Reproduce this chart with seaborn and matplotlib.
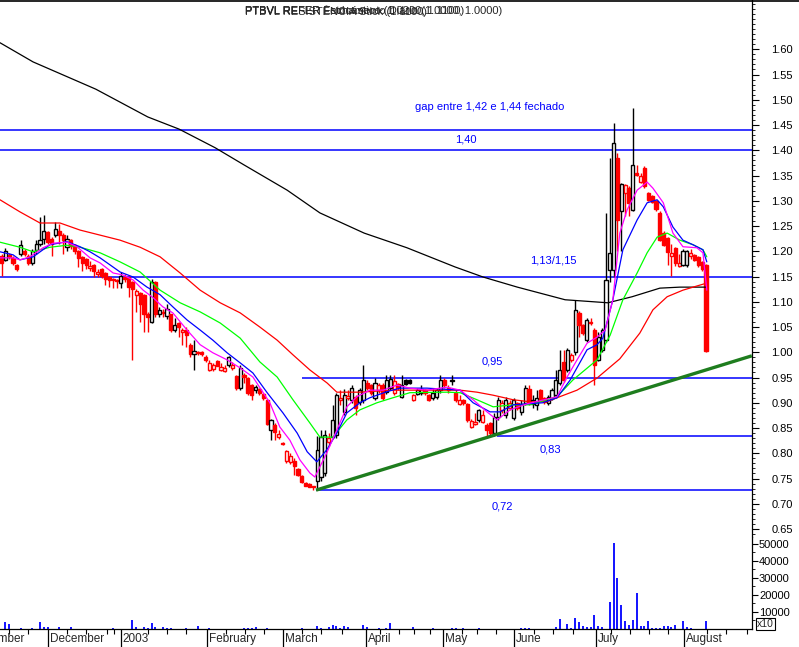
import matplotlib
matplotlib.use('Agg')
import matplotlib.pyplot as plt
from matplotlib.lines import Line2D
from matplotlib.ticker import MultipleLocator, FixedLocator, FuncFormatter
import seaborn as sns
import numpy as np

# ---- daily candles (trading-day index 0..183) ----
opens = [
    1.190, 1.183, 1.192, 1.186, 1.172, 1.195, 1.200, 1.190, 1.176, 1.203,
    1.214, 1.225, 1.238, 1.225, 1.232, 1.240, 1.232, 1.208, 1.222, 1.212,
    1.200, 1.188, 1.184, 1.166, 1.172, 1.155, 1.164, 1.156, 1.150, 1.145,
    1.144, 1.138, 1.150, 1.150, 1.140, 1.113, 1.118, 1.113, 1.075, 1.060,
    1.140, 1.075, 1.080, 1.072, 1.075, 1.045, 1.058, 1.040, 1.045, 1.015,
    0.997, 1.000, 1.000, 0.990, 0.965, 0.966, 0.983, 0.965, 0.963, 0.975,
    0.968, 0.953, 0.930, 0.955, 0.950, 0.935, 0.925, 0.928, 0.918, 0.906,
    0.846, 0.855, 0.832, 0.820, 0.785, 0.782, 0.785, 0.768, 0.755, 0.742,
    0.740, 0.735, 0.745, 0.753, 0.760, 0.822, 0.832, 0.836, 0.905, 0.882,
    0.910, 0.905, 0.912, 0.902, 0.906, 0.940, 0.935, 0.910, 0.925, 0.935,
    0.922, 0.930, 0.920, 0.937, 0.912, 0.945, 0.946, 0.905, 0.917, 0.920,
    0.925, 0.915, 0.910, 0.912, 0.925, 0.945, 0.925, 0.944, 0.920, 0.898,
    0.905, 0.898, 0.853, 0.858, 0.866, 0.862, 0.856, 0.860, 0.840, 0.872,
    0.886, 0.875, 0.890, 0.870, 0.900, 0.882, 0.900, 0.928, 0.898, 0.895,
    0.925, 0.910, 0.900, 0.910, 0.915, 0.940, 0.980, 0.965, 0.985, 1.000,
    1.078, 1.054, 1.024, 1.060, 1.044, 0.985, 1.005, 1.024, 1.163, 1.163,
    1.385, 1.280, 1.315, 1.325, 1.282, 1.355, 1.338, 1.365, 1.315, 1.310,
    1.300, 1.275, 1.236, 1.226, 1.190, 1.206, 1.170, 1.172, 1.172, 1.190,
    1.193, 1.188, 1.178, 1.172]
highs = [
    1.195, 1.207, 1.196, 1.190, 1.175, 1.222, 1.205, 1.195, 1.204, 1.222,
    1.268, 1.272, 1.240, 1.228, 1.258, 1.255, 1.236, 1.232, 1.224, 1.214,
    1.203, 1.190, 1.186, 1.180, 1.175, 1.165, 1.166, 1.158, 1.152, 1.148,
    1.146, 1.158, 1.155, 1.152, 1.142, 1.125, 1.120, 1.115, 1.080, 1.145,
    1.142, 1.090, 1.085, 1.095, 1.076, 1.068, 1.060, 1.048, 1.050, 1.018,
    1.025, 1.003, 1.002, 0.995, 0.985, 0.978, 0.985, 0.978, 0.975, 0.992,
    0.980, 0.955, 0.975, 0.958, 0.952, 0.937, 0.935, 0.930, 0.920, 0.908,
    0.868, 0.860, 0.846, 0.822, 0.807, 0.800, 0.790, 0.770, 0.757, 0.744,
    0.741, 0.736, 0.835, 0.846, 0.846, 0.840, 0.896, 0.920, 0.925, 0.928,
    0.925, 0.935, 0.915, 0.930, 0.975, 0.945, 0.938, 0.950, 0.940, 0.940,
    0.955, 0.955, 0.955, 0.940, 0.955, 0.947, 0.948, 0.918, 0.930, 0.935,
    0.927, 0.918, 0.930, 0.930, 0.955, 0.950, 0.935, 0.955, 0.925, 0.915,
    0.908, 0.900, 0.868, 0.880, 0.888, 0.885, 0.860, 0.862, 0.880, 0.912,
    0.905, 0.912, 0.905, 0.910, 0.902, 0.905, 0.935, 0.935, 0.915, 0.925,
    0.928, 0.912, 0.915, 0.930, 0.965, 1.005, 1.005, 1.008, 0.998, 1.104,
    1.082, 1.056, 1.068, 1.068, 1.048, 1.040, 1.048, 1.275, 1.385, 1.455,
    1.395, 1.335, 1.333, 1.330, 1.483, 1.370, 1.355, 1.368, 1.318, 1.312,
    1.302, 1.280, 1.240, 1.228, 1.215, 1.208, 1.195, 1.205, 1.203, 1.205,
    1.195, 1.190, 1.180, 1.175]
lows = [
    1.152, 1.180, 1.185, 1.172, 1.160, 1.190, 1.190, 1.172, 1.172, 1.195,
    1.210, 1.215, 1.215, 1.190, 1.228, 1.215, 1.195, 1.200, 1.205, 1.195,
    1.168, 1.160, 1.165, 1.160, 1.150, 1.150, 1.148, 1.133, 1.130, 1.128,
    1.128, 1.128, 1.140, 1.110, 0.985, 1.080, 1.060, 1.040, 1.040, 1.058,
    1.070, 1.070, 1.070, 1.065, 1.040, 1.040, 1.030, 1.015, 1.010, 0.990,
    0.965, 0.995, 0.992, 0.980, 0.962, 0.962, 0.972, 0.962, 0.960, 0.970,
    0.965, 0.925, 0.925, 0.940, 0.915, 0.905, 0.920, 0.915, 0.905, 0.855,
    0.826, 0.826, 0.828, 0.817, 0.780, 0.778, 0.757, 0.755, 0.742, 0.735,
    0.733, 0.728, 0.727, 0.745, 0.755, 0.815, 0.830, 0.830, 0.895, 0.875,
    0.905, 0.900, 0.876, 0.895, 0.900, 0.925, 0.915, 0.905, 0.920, 0.905,
    0.918, 0.925, 0.915, 0.925, 0.910, 0.935, 0.937, 0.903, 0.915, 0.915,
    0.915, 0.904, 0.905, 0.908, 0.920, 0.930, 0.920, 0.935, 0.902, 0.895,
    0.895, 0.862, 0.850, 0.855, 0.862, 0.860, 0.830, 0.835, 0.835, 0.865,
    0.880, 0.870, 0.885, 0.865, 0.885, 0.875, 0.895, 0.895, 0.890, 0.885,
    0.903, 0.898, 0.895, 0.905, 0.910, 0.935, 0.942, 0.960, 0.980, 0.995,
    1.030, 1.035, 1.020, 1.055, 0.935, 0.982, 1.000, 1.020, 1.140, 1.150,
    1.200, 1.200, 1.270, 1.270, 1.280, 1.350, 1.335, 1.325, 1.300, 1.296,
    1.280, 1.220, 1.210, 1.173, 1.152, 1.170, 1.168, 1.170, 1.168, 1.185,
    1.180, 1.168, 1.160, 1.000]
closes = [
    1.176, 1.200, 1.188, 1.176, 1.164, 1.212, 1.195, 1.176, 1.200, 1.215,
    1.222, 1.240, 1.218, 1.214, 1.245, 1.232, 1.222, 1.225, 1.210, 1.200,
    1.186, 1.176, 1.172, 1.170, 1.160, 1.158, 1.152, 1.146, 1.144, 1.143,
    1.142, 1.152, 1.145, 1.130, 1.125, 1.122, 1.095, 1.075, 1.070, 1.140,
    1.075, 1.084, 1.078, 1.085, 1.045, 1.055, 1.050, 1.045, 1.035, 0.997,
    1.002, 0.998, 0.996, 0.985, 0.978, 0.975, 0.973, 0.970, 0.968, 0.990,
    0.975, 0.930, 0.968, 0.952, 0.920, 0.915, 0.932, 0.920, 0.910, 0.857,
    0.866, 0.842, 0.838, 0.818, 0.805, 0.795, 0.775, 0.757, 0.744, 0.736,
    0.734, 0.733, 0.807, 0.832, 0.836, 0.830, 0.866, 0.915, 0.910, 0.915,
    0.913, 0.930, 0.890, 0.925, 0.945, 0.930, 0.920, 0.940, 0.935, 0.910,
    0.945, 0.948, 0.944, 0.932, 0.935, 0.937, 0.939, 0.915, 0.925, 0.928,
    0.920, 0.906, 0.920, 0.925, 0.945, 0.935, 0.930, 0.945, 0.906, 0.905,
    0.900, 0.866, 0.864, 0.862, 0.885, 0.875, 0.846, 0.840, 0.872, 0.905,
    0.900, 0.906, 0.900, 0.906, 0.890, 0.898, 0.930, 0.900, 0.905, 0.910,
    0.906, 0.902, 0.912, 0.925, 0.945, 0.965, 0.945, 1.004, 0.995, 1.084,
    1.055, 1.038, 1.064, 1.058, 0.975, 1.030, 1.044, 1.143, 1.196, 1.414,
    1.262, 1.333, 1.332, 1.295, 1.370, 1.352, 1.350, 1.330, 1.302, 1.298,
    1.284, 1.222, 1.212, 1.198, 1.196, 1.177, 1.176, 1.200, 1.201, 1.196,
    1.183, 1.173, 1.165, 1.003]

# ---- moving averages (day index, price) ----
ma_long_x = [-0.4, 8.2, 24.5, 38, 46.1, 55.5, 63, 74.2, 82.7, 94.2,
             105.3, 117.8, 125.1, 134, 146.4, 157.5, 163.8, 171, 176.2, 183]
ma_long_y = [1.613, 1.575, 1.521, 1.466, 1.442, 1.405, 1.371, 1.321, 1.276, 1.236,
             1.207, 1.169, 1.149, 1.129, 1.104, 1.098, 1.110, 1.127, 1.129, 1.129]
ma_red_x = [-0.4, 4.8, 10, 15.2, 20.4, 25.6, 30.8, 36, 41.2, 46.4,
            51.6, 56.8, 62, 67.1, 71.6, 75.7, 80.1, 84.6, 87.1, 93.1,
            101.7, 110.5, 119.1, 123.5, 127.7, 132.9, 137.3, 141.7, 144.3, 149.5,
            154.7, 160.6, 165.8, 169.2, 172.9, 177, 181.4, 183.2]
ma_red_y = [1.302, 1.278, 1.256, 1.256, 1.242, 1.232, 1.222, 1.208, 1.189, 1.157,
            1.123, 1.098, 1.078, 1.050, 1.024, 0.995, 0.965, 0.939, 0.921, 0.921,
            0.925, 0.925, 0.925, 0.921, 0.915, 0.906, 0.902, 0.902, 0.910, 0.925,
            0.949, 0.987, 1.038, 1.084, 1.110, 1.123, 1.133, 1.137]
ma_green_x = [-0.4, 4.8, 8.2, 12.6, 17, 20.4, 25.6, 30.8, 36, 41.2,
              46.4, 51.6, 56.8, 62, 67.1, 71.6, 75.7, 80.1, 82.7, 86.1,
              89.7, 93.1, 97.5, 101.7, 106.1, 115.7, 119.1, 123.5, 127.7, 132.9,
              137.3, 144.3, 148.4, 154.7, 158.1, 161.4, 165.1, 167.7, 170.3, 172.9,
              176.2, 179.6, 182.2, 183.2]
ma_green_y = [1.218, 1.208, 1.199, 1.208, 1.212, 1.208, 1.197, 1.179, 1.159, 1.123,
              1.098, 1.080, 1.058, 1.028, 0.981, 0.951, 0.906, 0.860, 0.832, 0.832,
              0.866, 0.886, 0.900, 0.910, 0.920, 0.921, 0.920, 0.906, 0.892, 0.896,
              0.896, 0.912, 0.945, 0.985, 1.034, 1.104, 1.157, 1.197, 1.228, 1.236,
              1.222, 1.213, 1.203, 1.189]
ma_blue_x = [-0.4, 3, 4.8, 8.2, 12.6, 17, 20.4, 23, 25.6, 30.8,
             34.2, 37.8, 41.2, 44.5, 48.2, 51.6, 54.9, 58.6, 62, 65.3,
             69, 73.1, 76.8, 79.4, 81.9, 84.5, 87.1, 89.7, 93.1, 95.7,
             100.1, 103.5, 110.5, 119.1, 122.5, 126.9, 129.5, 132.9, 140.6, 144.3,
             147.7, 152.1, 154.7, 156.2, 158.8, 161.4, 165.1, 167.7, 170.3, 171.9,
             174.4, 177, 179.6, 182.2, 183.2]
ma_blue_y = [1.199, 1.193, 1.183, 1.189, 1.213, 1.219, 1.209, 1.199, 1.187, 1.159,
             1.149, 1.129, 1.114, 1.090, 1.064, 1.044, 1.024, 0.999, 0.979, 0.959,
             0.920, 0.880, 0.840, 0.803, 0.783, 0.807, 0.840, 0.880, 0.900, 0.910,
             0.922, 0.929, 0.929, 0.925, 0.900, 0.882, 0.882, 0.896, 0.900, 0.910,
             0.945, 1.005, 1.015, 1.028, 1.104, 1.203, 1.262, 1.296, 1.302, 1.288,
             1.248, 1.222, 1.213, 1.203, 1.179]
ma_pink_x = [-0.4, 3, 4.8, 7.4, 10.8, 13.4, 17, 19.6, 23, 25.6,
             29, 31.6, 34.2, 36.8, 39.4, 41.9, 44.5, 48.2, 51.6, 54.9,
             58.6, 62, 65.3, 69.7, 72.3, 74.9, 77.5, 80.1, 81.4, 84.5,
             87.1, 89.7, 92.3, 95.7, 99.1, 102.7, 106.1, 110.5, 115.7, 119.1,
             122.5, 126.1, 128.7, 132.1, 136.5, 144.3, 146.9, 149.5, 152.1, 154.7,
             156.8, 158.8, 160.6, 162.5, 165.1, 167.7, 169.2, 171.9, 174.4, 177,
             180.6, 182.2, 183.2]
ma_pink_y = [1.187, 1.187, 1.183, 1.189, 1.207, 1.216, 1.218, 1.209, 1.187, 1.177,
             1.157, 1.153, 1.143, 1.123, 1.108, 1.090, 1.078, 1.044, 1.015, 0.999,
             0.985, 0.969, 0.951, 0.900, 0.852, 0.826, 0.787, 0.761, 0.753, 0.801,
             0.846, 0.892, 0.912, 0.925, 0.925, 0.935, 0.929, 0.925, 0.931, 0.925,
             0.906, 0.882, 0.866, 0.886, 0.898, 0.912, 0.951, 0.985, 1.018, 1.030,
             1.044, 1.104, 1.236, 1.282, 1.321, 1.337, 1.325, 1.296, 1.236, 1.209,
             1.207, 1.197, 1.123]

# ---- volume (x10) ----
vol_idx = [1, 2, 5, 8, 10, 11, 12, 15, 18, 29, 34, 35, 37, 38, 39, 40, 42, 43, 44, 48,
           51, 54, 63, 64, 65, 66, 69, 78, 82, 83, 85, 86, 87, 88, 89, 90, 94, 95, 98, 100,
           101, 107, 112, 117, 118, 120, 124, 135, 136, 137, 144, 145, 147, 148, 149, 150,
           151, 152, 153, 154, 155, 156, 158, 159, 160, 161, 162, 163, 164, 165, 166, 167,
           168, 169, 170, 171, 172, 173, 174, 175, 177, 178, 179, 183]
vol_val = [4100, 2900, 600, 600, 4100, 1200, 1200, 1200, 1200, 800, 5300, 1200, 1200, 600,
           3500, 1200, 1200, 600, 600, 600, 1800, 600, 600, 600, 600, 1200, 600, 600, 1800,
           600, 1200, 2400, 1800, 800, 1800, 1200, 2400, 1200, 600, 600, 3500, 1200, 400,
           600, 600, 600, 400, 800, 800, 800, 1000, 5900, 2900, 800, 6500, 4300, 2000, 1000,
           1400, 8200, 2000, 1200, 16000, 50600, 30000, 14300, 4900, 2400, 5300, 21400, 2000,
           2000, 4900, 600, 600, 600, 1600, 1600, 1200, 2400, 4900, 1200, 600, 4900]

# ---- support / resistance ----
hline_full = [1.44, 1.40, 1.15]
hline_part = [0.95, 0.835, 0.727]
hline_part_start = [78.1, 128.7, 81.7]
trend_x = [81.7, 194.9]
trend_y = [0.727, 0.993]

notes = ['gap entre 1,42 e 1,44 fechado', '1,40', '1,13/1,15', '0,95', '0,83', '0,72']
notes_x = [126.9, 120.6, 143.3, 127.4, 142.7, 130.0]
notes_y = [1.486, 1.422, 1.181, 0.981, 0.807, 0.694]

month_pos = [-8.7, 12.1, 31.0, 53.4, 73.1, 94.7, 114.7, 133.1, 154.4, 177.3]
month_names = ['November', 'December', '2003', 'February', 'March', 'April',
               'May', 'June', 'July', 'August']
week_pos = [2.0, 7.0, 17.1, 22.0, 27.3, 29.3, 38.1, 43.1, 48.0, 58.2, 63.3, 68.3,
            78.1, 83.0, 88.4, 98.3, 103.3, 107.2, 111.4, 119.5, 123.4, 128.4, 138.4,
            143.3, 148.4, 158.3, 163.2, 168.3, 173.2, 183.2, 188.2, 193.6]

sns.set_style("white")
plt.rcParams['font.family'] = ['Liberation Sans', 'DejaVu Sans']

W, H = 799, 647
RED, BLACK, BLUE = '#ff0000', '#000000', '#0000ff'
fig = plt.figure(figsize=(W / 100, H / 100), dpi=100)
ax = fig.add_axes([0, (H - 537) / H, 752 / W, 537 / H])
axv = fig.add_axes([0, (H - 629) / H, 752 / W, 92 / H], sharex=ax)

# horizontal levels
for y in hline_full:
    ax.axhline(y, color=BLUE, lw=1.1, zorder=1)
ax.hlines(hline_part, hline_part_start, 200, color=BLUE, lw=1.1, zorder=1)
ax.plot(trend_x, trend_y, color='#1e7d1e', lw=2.4, zorder=5, solid_capstyle='butt')

# candles
o, hi, lo, c = (np.array(v) for v in (opens, highs, lows, closes))
idx = np.arange(len(o))
prev = np.r_[o[0], c[:-1]]
edge = np.where(c < prev, RED, BLACK)
face = np.where(c < o, edge, '#ffffff')
ax.vlines(idx, lo, hi, colors=edge, lw=1.0, zorder=2)
body_lo = np.minimum(o, c)
body_h = np.maximum(np.abs(c - o), 0.0008)
ax.bar(idx, body_h, bottom=body_lo, width=0.82, color=face, edgecolor=edge,
       linewidth=1.0, zorder=3)

# moving averages
for xs, ys, col in [(ma_long_x, ma_long_y, BLACK), (ma_red_x, ma_red_y, RED),
                    (ma_green_x, ma_green_y, '#00ff00'), (ma_blue_x, ma_blue_y, BLUE),
                    (ma_pink_x, ma_pink_y, '#ff00ff')]:
    sns.lineplot(x=xs, y=ys, color=col, linewidth=0.9, ax=ax, zorder=4,
                 sort=False, estimator=None)

for t, x, y in zip(notes, notes_x, notes_y):
    ax.text(x, y, t, color=BLUE, fontsize=8, ha='center', va='center', zorder=6)

# volume
axv.vlines(vol_idx, 0, vol_val, color=BLUE, lw=1.3)

# axes styling
ax.set_xlim(-0.39, 194.94)
ax.set_ylim(0.6342, 1.6976)
axv.set_ylim(0, 54100)
for a in (ax, axv):
    a.set_xlabel('')
    a.set_ylabel('')
    a.set_facecolor('white')
    for s in ('left', 'top'):
        a.spines[s].set_visible(False)
    a.spines['right'].set_linewidth(0.9)
    a.spines['right'].set_color(BLACK)
    a.yaxis.tick_right()
ax.spines['bottom'].set_visible(False)
axv.spines['bottom'].set_linewidth(0.9)
axv.spines['bottom'].set_color(BLACK)

ax.yaxis.set_major_locator(FixedLocator(np.round(np.arange(0.65, 1.601, 0.05), 2)))
ax.yaxis.set_minor_locator(MultipleLocator(0.01))
ax.yaxis.set_major_formatter(FuncFormatter(lambda v, p: f'{v:.2f}'))
ax.tick_params(axis='y', which='major', length=5, width=0.8, pad=9, labelsize=8,
               colors=BLACK, direction='out')
ax.tick_params(axis='y', which='minor', length=2.5, width=0.6, colors=BLACK)
ax.tick_params(axis='x', which='both', bottom=False, labelbottom=False)

axv.yaxis.set_major_locator(FixedLocator([10000, 20000, 30000, 40000, 50000]))
axv.yaxis.set_minor_locator(FixedLocator([5000, 15000, 25000, 35000, 45000]))
axv.yaxis.set_major_formatter(FuncFormatter(lambda v, p: f'{int(v)}'))
axv.tick_params(axis='y', which='major', length=4, width=0.8, pad=1, labelsize=8,
                colors=BLACK)
axv.tick_params(axis='y', which='minor', length=2, width=0.6, colors=BLACK)

axv.xaxis.set_major_locator(FixedLocator(month_pos))
axv.xaxis.set_minor_locator(FixedLocator(week_pos))
axv.tick_params(axis='x', which='major', length=13, width=0.9, labelbottom=False,
                bottom=True, colors=BLACK, direction='out')
axv.tick_params(axis='x', which='minor', length=3.6, width=0.8, bottom=True, colors=BLACK)
for pos, name in zip(month_pos, month_names):
    axv.annotate(name, xy=(pos, 0), xycoords=('data', 'axes fraction'),
                 xytext=(1.5, -3), textcoords='offset points', ha='left', va='top',
                 fontsize=8.5, annotation_clip=False)

# header and frame bits
fig.add_artist(Line2D([0, 1], [1 - 0.8 / H] * 2, color=BLACK, lw=1.2))
for t in ['PTBVL RESISTÊNCIA Stick (1.1100)',
          'PTBVL REFER Estocástico (1.0200, 1.1100)',
          'PTBVL REFER Fechamento Diário (1.0000, 1.0000)']:
    fig.text(245 / W, 1 - 11 / H, t, fontsize=8, va='center', ha='left')
fig.text(757 / W, 1 - 624 / H, 'x10', fontsize=7.5, va='center', ha='left',
         bbox=dict(boxstyle='square,pad=0.12', fc='white', ec=BLACK, lw=0.8))

fig.savefig('out.png', dpi=100, facecolor='white')
plt.close(fig)
